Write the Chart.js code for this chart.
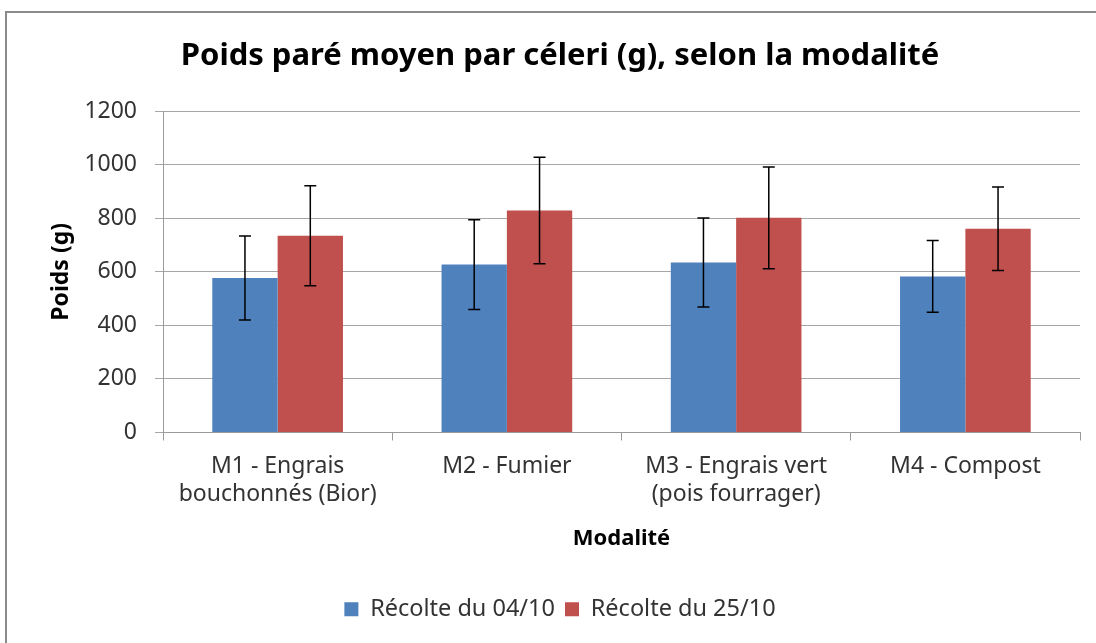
<!DOCTYPE html>
<html>
<head>
<meta charset="utf-8">
<script src="https://cdn.jsdelivr.net/npm/chart.js@4"></script>
<style>
  html, body { margin: 0; padding: 0; background: #fff; overflow: hidden; }
  #wrap { position: relative; width: 1096px; height: 643px; }
  #frame { position: absolute; left: 5px; top: 11px; width: 1200px; height: 800px; border: 2px solid #8a8a8a; box-sizing: border-box; }
  canvas { position: absolute; left: 0; top: 0; }
</style>
</head>
<body>
<div id="wrap">
  <div id="frame"></div>
  <canvas id="chart" width="1096" height="643"></canvas>
</div>
<script>
  // data
  const categories = [["M1 - Engrais", "bouchonnés (Bior)"], "M2 - Fumier", ["M3 - Engrais vert", "(pois fourrager)"], "M4 - Compost"];
  const seriesNames = ["Récolte du 04/10", "Récolte du 25/10"];
  const recolte0410 = [577, 627, 635, 583];
  const recolte2510 = [735, 829, 802, 761];
  const erreur0410 = [157, 168, 166, 134];
  const erreur2510 = [187, 199, 190, 156];
  const yMin = 0, yMax = 1200, yStep = 200;

  const font = "'Noto Sans', 'Open Sans', sans-serif";

  // error bars drawn from the y scale
  const errorBars = {
    id: 'errorBars',
    afterDatasetsDraw(chart) {
      const ctx = chart.ctx;
      const y = chart.scales.y;
      ctx.save();
      ctx.strokeStyle = '#000';
      ctx.lineWidth = 1.5;
      chart.data.datasets.forEach((ds, i) => {
        const meta = chart.getDatasetMeta(i);
        meta.data.forEach((bar, j) => {
          const v = ds.data[j], e = ds.errors[j];
          const top = y.getPixelForValue(v + e);
          const bot = y.getPixelForValue(v - e);
          ctx.beginPath();
          ctx.moveTo(bar.x, top); ctx.lineTo(bar.x, bot);
          ctx.moveTo(bar.x - 6, top); ctx.lineTo(bar.x + 6, top);
          ctx.moveTo(bar.x - 6, bot); ctx.lineTo(bar.x + 6, bot);
          ctx.stroke();
        });
      });
      ctx.restore();
    }
  };

  new Chart(document.getElementById('chart'), {
    type: 'bar',
    data: {
      labels: categories,
      datasets: [
        { label: seriesNames[0], data: recolte0410, errors: erreur0410, backgroundColor: '#4F81BD' },
        { label: seriesNames[1], data: recolte2510, errors: erreur2510, backgroundColor: '#C0504D' }
      ]
    },
    options: {
      responsive: false,
      animation: false,
      layout: { padding: { top: 12, left: 40, right: 16, bottom: 12 } },
      datasets: { bar: { barPercentage: 1, categoryPercentage: 0.57 } },
      plugins: {
        title: {
          display: true,
          text: 'Poids paré moyen par céleri (g), selon la modalité',
          color: '#000',
          font: { family: font, size: 31, weight: 'bold' },
          padding: { top: 26, bottom: 36 }
        },
        legend: {
          position: 'bottom',
          labels: {
            color: '#333',
            font: { family: font, size: 23.5 },
            boxWidth: 14, boxHeight: 14,
            padding: 10
          }
        },
        tooltip: { enabled: false }
      },
      scales: {
        x: {
          afterFit: s => { s.height = 155; },
          grid: { drawOnChartArea: false, drawTicks: true, tickLength: 8, color: '#9a9a9a', offset: true },
          border: { color: '#9a9a9a', width: 1 },
          ticks: { color: '#333', font: { family: font, size: 23, lineHeight: 1.22 }, padding: 12, maxRotation: 0 },
          title: { display: true, text: 'Modalité', color: '#000', font: { family: font, size: 22, weight: 'bold' }, padding: { bottom: 36 } }
        },
        y: {
          min: yMin, max: yMax,
          afterFit: s => { s.width = 123; },
          grid: { color: '#a6a6a6', tickLength: 8 },
          border: { color: '#9a9a9a', width: 1 },
          ticks: { stepSize: yStep, color: '#333', font: { family: font, size: 23 }, padding: 18, callback: v => String(v) },
          title: { display: true, text: 'Poids (g)', color: '#000', font: { family: font, size: 23, weight: 'bold' }, padding: { top: 8 } }
        }
      }
    },
    plugins: [errorBars]
  });
</script>
</body>
</html>
